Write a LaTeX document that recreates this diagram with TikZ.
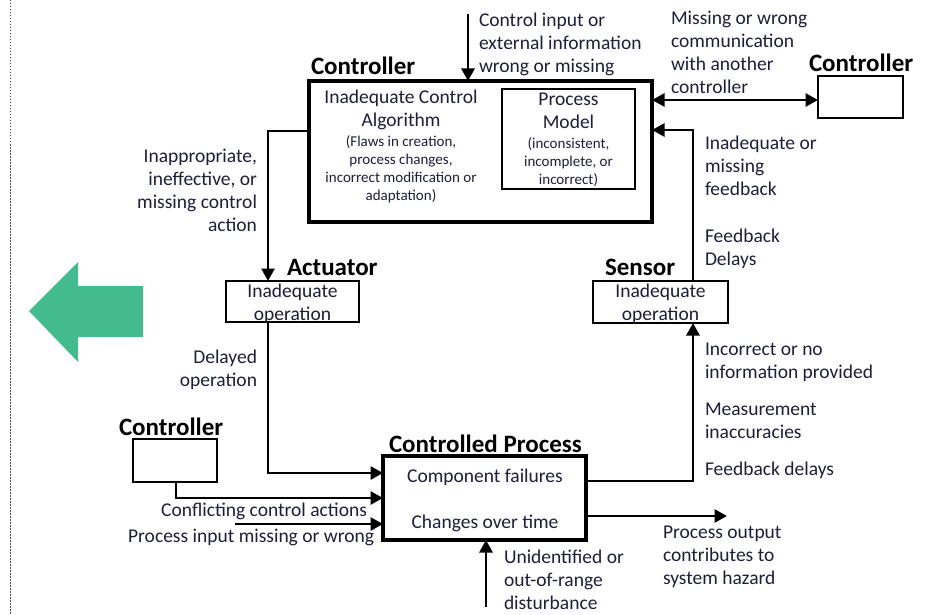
\documentclass[tikz,border=0pt]{standalone}
\usepackage{fontspec}
\setmainfont{Carlito}
\usetikzlibrary{arrows.meta}
\definecolor{txt}{HTML}{1E1E38}
\definecolor{greenarrow}{HTML}{44BB8C}
\begin{document}
\begin{tikzpicture}[x=1pt,y=-1pt,
  every node/.style={inner sep=0pt,outer sep=0pt},
  lbl/.style={font=\fontsize{19.5}{23}\selectfont,text=txt},
  smalllbl/.style={font=\fontsize{15}{17.8}\selectfont,text=txt},
  hd/.style={font=\fontsize{25}{29}\selectfont\bfseries,text=black},
  bigbox/.style={draw=black,line width=3.2pt,fill=white},
  thinbox/.style={draw=black,line width=1.4pt,fill=white},
  conn/.style={draw=black,line width=2.8pt},
  arr/.style={conn,-{Triangle[length=12.5pt,width=13pt]}},
  dblarr/.style={conn,{Triangle[length=12.5pt,width=13pt]}-{Triangle[length=12.5pt,width=13pt]}}
]
\useasboundingbox (0,0) rectangle (932,615);

% page margin rule
\draw[black!70,line width=0.8pt,dash pattern=on 1.5pt off 1.5pt] (10,0) -- (10,615);

% green arrow pointing left
\fill[greenarrow] (29,311) -- (78,262) -- (78,286) -- (143,286) -- (143,337)
  -- (78,337) -- (78,362) -- cycle;

% ---------- boxes ----------
\node[bigbox,minimum width=343pt,minimum height=141pt] (ctrl) at (480.5,151.5) {};
\node[thinbox,minimum width=133pt,minimum height=100pt] (pm) at (568.5,139) {};
\node[thinbox,minimum width=85pt,minimum height=42pt] (ctrlR) at (860.5,97) {};
\node[thinbox,minimum width=133pt,minimum height=41pt] (act) at (292.5,301.5) {};
\node[thinbox,minimum width=135pt,minimum height=42pt] (sens) at (660.5,302) {};
\node[bigbox,minimum width=203pt,minimum height=84pt] (proc) at (484.5,498) {};
\node[thinbox,minimum width=84pt,minimum height=43pt] (ctrlL) at (175,460.5) {};

% ---------- headings ----------
\node[hd,anchor=base west] (hctrl) at (311,75) {Controller};
\node[hd,anchor=base west] (hctrlR) at (809,72) {Controller};
\node[hd,anchor=base west] (hact) at (287,275) {Actuator};
\node[hd,anchor=base west] (hsens) at (605,275) {Sensor};
\node[hd,anchor=base west] (hctrlL) at (119,435) {Controller};
\node[hd,anchor=base west] (hproc) at (389,452) {Controlled Process};

% ---------- box contents (base = baseline of the last line) ----------
\node[lbl,anchor=base,align=center] (alg) at (401,127) {Inadequate Control\\Algorithm};
\node[smalllbl,anchor=base,align=center] (algsub) at (401,200.4)
  {(Flaws in creation,\\process changes,\\incorrect modification or\\adaptation)};
\node[lbl,anchor=base,align=center] (pmt) at (568.5,128.5) {Process\\Model};
\node[smalllbl,anchor=base,align=center] (pmsub) at (568.5,184)
  {(inconsistent,\\incomplete, or\\incorrect)};
\node[lbl,anchor=base,align=center] (actt) at (292.5,320) {Inadequate\\operation};
\node[lbl,anchor=base,align=center] (senst) at (660.5,320) {Inadequate\\operation};
\node[lbl,anchor=base] (pt1) at (485,482) {Component failures};
\node[lbl,anchor=base] (pt2) at (485,528) {Changes over time};

% ---------- connectors ----------
\coordinate (inTop) at (468,14);
\draw[arr] (inTop) -- (inTop |- ctrl.north);

\coordinate (comm) at (0,100);
\draw[dblarr] (ctrl.east |- comm) -- (ctrlR.west |- comm);

\coordinate (fb) at (693,130);
\draw[arr] (sens.north -| fb) -- (fb) -- (ctrl.east |- fb);

\coordinate (ca) at (268,131);
\draw[arr] (ctrl.west |- ca) -- (ca) -- (act.north -| ca);

\coordinate (op) at (268,473);
\draw[arr] (act.south -| op) -- (op) -- (proc.west |- op);

\coordinate (meas) at (693,481);
\draw[arr] (proc.east |- meas) -- (meas) -- (sens.south -| meas);

\coordinate (conf) at (176,498);
\draw[arr] (ctrlL.south -| conf) -- (conf) -- (proc.west |- conf);

\coordinate (pin) at (235,524);
\draw[arr] (pin) -- (proc.west |- pin);

\coordinate (dist) at (486,607);
\draw[arr] (dist) -- (dist |- proc.south);

\coordinate (pout) at (727,516);
\draw[arr] (proc.east |- pout) -- (pout);

% ---------- connector labels (base = baseline of the last line) ----------
\node[lbl,anchor=base west,align=left] (l1) at (479,73)
  {Control input or\\external information\\wrong or missing};
\node[lbl,anchor=base west,align=left] (l2) at (671,94)
  {Missing or wrong\\communication\\with another\\controller};
\node[lbl,anchor=base west,align=left] (l3) at (705,195)
  {Inadequate or\\missing\\feedback};
\node[lbl,anchor=base west,align=left] (l4) at (705,265)
  {Feedback\\Delays};
\node[lbl,anchor=base east,align=right] (l5) at (257,231)
  {Inappropriate,\\ineffective, or\\missing control\\action};
\node[lbl,anchor=base east,align=right] (l6) at (257,386)
  {Delayed\\operation};
\node[lbl,anchor=base west,align=left] (l7) at (705,378)
  {Incorrect or no\\information provided};
\node[lbl,anchor=base west,align=left] (l8) at (705,438)
  {Measurement\\inaccuracies};
\node[lbl,anchor=base west] (l9) at (705,475) {Feedback delays};
\node[lbl,anchor=base east] (l10) at (367,516) {Conflicting control actions};
\node[lbl,anchor=base east] (l11) at (374,542) {Process input missing or wrong};
\node[lbl,anchor=base west,align=left] (l12) at (504,609)
  {Unidentified or\\out-of-range\\disturbance};
\node[lbl,anchor=base west,align=left] (l13) at (663,584)
  {Process output\\contributes to\\system hazard};
\end{tikzpicture}
\end{document}
